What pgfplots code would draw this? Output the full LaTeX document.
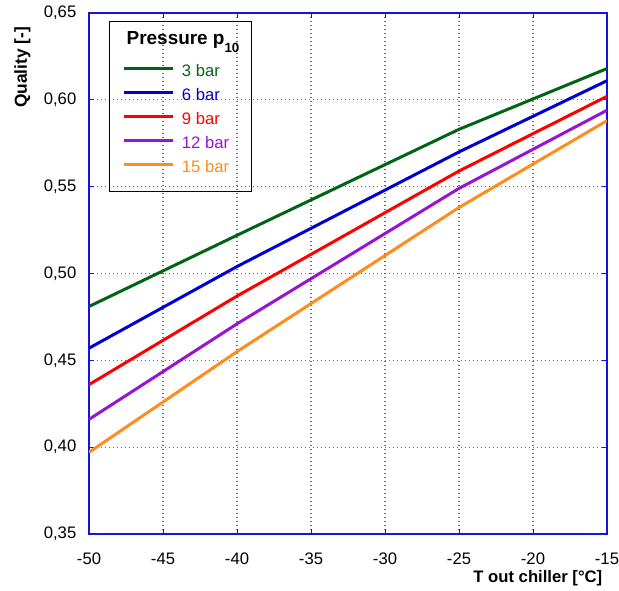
\documentclass[border=0pt]{standalone}
\usepackage{pgfplots}
\pgfplotsset{compat=1.18}
\usepackage{fontspec}
\setmainfont{Liberation Sans}

\definecolor{c3}{RGB}{0,100,20}
\definecolor{c6}{RGB}{0,0,210}
\definecolor{c9}{RGB}{255,0,0}
\definecolor{c12}{RGB}{150,20,210}
\definecolor{c15}{RGB}{255,140,30}
\definecolor{frameblue}{RGB}{20,20,220}

\newcommand{\ent}[2]{\textcolor{#1}{\rule[-4.75pt]{0pt}{18.5pt}#2}}

\begin{document}
\begin{tikzpicture}
\useasboundingbox (-66.75pt,-42.75pt) rectangle (397.5pt,400.5pt);
\begin{axis}[
    scale only axis, width=388.5pt, height=390.75pt,
    xmin=-50, xmax=-15, ymin=0.35, ymax=0.65,
    xtick={-50,-45,...,-15},
    ytick={0.35,0.40,...,0.66},
    axis line style={frameblue, line width=0.9pt},
    tick style={frameblue, line width=0.6pt},
    major tick length=4pt,
    tick align=inside,
    grid=major,
    major grid style={frameblue!70, dash pattern=on 1pt off 2pt, line width=0.8pt},
    /pgf/number format/assume math mode=true,
    yticklabel style={/pgf/number format/.cd, use comma, fixed, fixed zerofill, precision=2, /tikz/.cd,
        font=\fontsize{12.5}{15}\selectfont, xshift=-6pt},
    xticklabel style={font=\fontsize{12.5}{15}\selectfont, yshift=-10.8pt},
    xticklabel={\pgfmathprintnumber[assume math mode=true]{\tick}},
    ylabel={\textbf{Quality [-]}},
    ylabel style={at={(axis description cs:-0.1284,0.8954)}, anchor=center, font=\fontsize{13}{15}\selectfont},
    xlabel={\textbf{T out chiller [°C]}},
    xlabel style={at={(axis description cs:1,-0.0845)}, anchor=east, font=\fontsize{12.5}{15}\selectfont},
    legend style={at={(axis description cs:0.0637,0.9138)}, anchor=north west,
        draw=none, fill=none, font=\fontsize{12.5}{15}\selectfont,
        inner xsep=0pt, inner ysep=0pt, row sep=2.8pt,
        nodes={inner sep=0pt}},
    legend cell align=left,
    legend image code/.code={\draw[#1, line width=2.25pt] (0pt,0pt) -- (37pt,0pt); \path (42.5pt,0pt);},
    every axis plot/.append style={line width=2.25pt},
  ]
  % legend frame and title (grid stays visible inside, as in the original)
  \draw[black, line width=0.6pt] (axis description cs:0.0386,0.9834) rectangle (axis description cs:0.3127,0.6570);
  \node[anchor=base west, font=\fontsize{14.2}{16}\selectfont] at (axis description cs:0.0637,0.9386)
    {\textbf{Pressure p\raisebox{-6pt}{\fontsize{10}{11}\selectfont 10}}};

  \addplot[c3] coordinates {(-50,0.481)(-40,0.522)(-25,0.583)(-15,0.618)};
  \addlegendentry{\ent{c3}{3 bar}}
  \addplot[c6] coordinates {(-50,0.457)(-40,0.504)(-25,0.570)(-15,0.611)};
  \addlegendentry{\ent{c6}{6 bar}}
  \addplot[c9] coordinates {(-50,0.436)(-40,0.487)(-25,0.559)(-15,0.602)};
  \addlegendentry{\ent{c9}{9 bar}}
  \addplot[c12] coordinates {(-50,0.416)(-40,0.471)(-25,0.549)(-15,0.594)};
  \addlegendentry{\ent{c12}{12 bar}}
  \addplot[c15] coordinates {(-50,0.397)(-40,0.455)(-25,0.538)(-15,0.588)};
  \addlegendentry{\ent{c15}{15 bar}}
\end{axis}
\end{tikzpicture}
\end{document}
